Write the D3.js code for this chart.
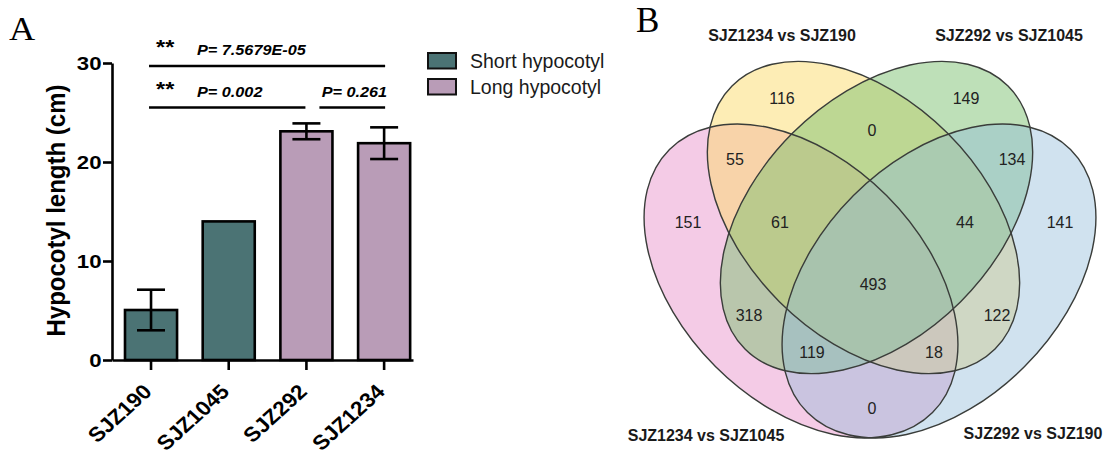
<!DOCTYPE html>
<html>
<head>
<meta charset="utf-8">
<script src="https://cdn.jsdelivr.net/npm/d3@7"></script>
<style>
  html, body { margin: 0; padding: 0; background: #ffffff; }
  svg { display: block; font-family: "Liberation Sans", Arial, sans-serif; }
</style>
</head>
<body>
<svg id="fig" width="1111" height="452"></svg>
<script>
// ---------- Panel A: hypocotyl length ----------
const lines = ["SJZ190", "SJZ1045", "SJZ292", "SJZ1234"];
const lineGroup = ["Short hypocotyl", "Short hypocotyl", "Long hypocotyl", "Long hypocotyl"];
const meanLength = [5.05, 14.0, 23.1, 21.9];
const errLength = [2.05, 0, 0.8, 1.6];
const yTicks = [0, 10, 20, 30];
const legendLabels = ["Short hypocotyl", "Long hypocotyl"];

// pairwise comparisons drawn above the bars
const compFrom = ["SJZ190", "SJZ190", "SJZ292"];
const compTo = ["SJZ1234", "SJZ292", "SJZ1234"];
const compLevel = [29.7, 25.5, 25.5];
const compStars = ["**", "**", ""];
const compLabels = ["P= 7.5679E-05", "P= 0.002", "P= 0.261"];

// ---------- Panel B: four-set Venn ----------
const vennSets = ["SJZ1234 vs SJZ1045", "SJZ1234 vs SJZ190", "SJZ292 vs SJZ1045", "SJZ292 vs SJZ190"];
const vennRegions = ["A", "B", "C", "D", "AB", "BC", "CD", "AD", "AC", "BD", "ABC", "BCD", "ACD", "ABD", "ABCD"];
const vennCounts = [151, 116, 149, 141, 55, 0, 134, 0, 318, 122, 61, 44, 119, 18, 493];

const svg = d3.select("#fig");

// ================= Panel A =================
const groupColor = d3.scaleOrdinal()
  .domain(legendLabels)
  .range(["#4b7374", "#b99cb7"]);

const x = d3.scaleBand()
  .domain(lines)
  .range([112, 413])
  .paddingInner(0.33)
  .paddingOuter(0.102)
  .align(0.82);

const y = d3.scaleLinear().domain([0, 30]).range([360, 63]);

const AX_W = 2.6;
const gA = svg.append("g");

// bars
gA.selectAll("rect.bar")
  .data(lines)
  .join("rect")
  .attr("class", "bar")
  .attr("x", d => x(d))
  .attr("width", x.bandwidth())
  .attr("y", (d, i) => y(meanLength[i]))
  .attr("height", (d, i) => y(0) - y(meanLength[i]))
  .attr("fill", (d, i) => groupColor(lineGroup[i]))
  .attr("stroke", "#000")
  .attr("stroke-width", AX_W);

// error bars
const capW = 28;
const eb = gA.selectAll("g.err")
  .data(lines.filter((d, i) => errLength[i] > 0))
  .join("g")
  .attr("class", "err")
  .attr("stroke", "#000")
  .attr("stroke-width", AX_W);
eb.each(function (d) {
  const i = lines.indexOf(d);
  const cx = x(d) + x.bandwidth() / 2;
  const hi = y(meanLength[i] + errLength[i]);
  const lo = y(meanLength[i] - errLength[i]);
  const g = d3.select(this);
  g.append("line").attr("x1", cx).attr("x2", cx).attr("y1", hi).attr("y2", lo);
  g.append("line").attr("x1", cx - capW / 2).attr("x2", cx + capW / 2).attr("y1", hi).attr("y2", hi);
  g.append("line").attr("x1", cx - capW / 2).attr("x2", cx + capW / 2).attr("y1", lo).attr("y2", lo);
});

// y axis
const gy = gA.append("g")
  .attr("transform", `translate(${x.range()[0]},0)`)
  .call(d3.axisLeft(y).tickValues(yTicks).tickSize(9).tickSizeOuter(0));
gy.select(".domain").attr("stroke", "#000").attr("stroke-width", AX_W);
gy.selectAll(".tick line").attr("stroke", "#000").attr("stroke-width", AX_W);
gy.selectAll(".tick text")
  .attr("x", null).attr("dy", null)
  .attr("transform", "translate(-10.5,6.6) scale(1.2,1)")
  .attr("text-anchor", "end")
  .style("font-family", "'Liberation Sans', Arial, sans-serif")
  .style("font-size", "18.5px")
  .style("font-weight", "bold")
  .attr("fill", "#000");

// x axis
const gx = gA.append("g")
  .attr("transform", `translate(0,${y(0)})`)
  .call(d3.axisBottom(x).tickSize(10).tickSizeOuter(0));
gx.select(".domain").attr("stroke", "#000").attr("stroke-width", AX_W);
gx.selectAll(".tick line").attr("stroke", "#000").attr("stroke-width", AX_W);
gx.selectAll(".tick text")
  .attr("y", null).attr("dy", null)
  .attr("transform", "translate(2,33) scale(1.1,1) rotate(-45)")
  .attr("text-anchor", "end")
  .style("font-family", "'Liberation Sans', Arial, sans-serif")
  .style("font-size", "20.5px")
  .style("font-weight", "bold")
  .attr("fill", "#000");

// y axis title
gA.append("text")
  .attr("transform", `translate(65,${(y(0) + y(30)) / 2 - 1}) scale(1.1,1) rotate(-90)`)
  .attr("text-anchor", "middle")
  .style("font-size", "24px")
  .style("font-weight", "bold")
  .text("Hypocotyl length (cm)");

// comparison brackets
const startPad = [-2, -2, 13];
const endPad = [1, -1, 1];
compFrom.forEach((from, i) => {
  const x1 = x(from) + x.bandwidth() / 2 + startPad[i];
  const x2 = x(compTo[i]) + x.bandwidth() / 2 + endPad[i];
  const ly = y(compLevel[i]);
  gA.append("line")
    .attr("x1", x1).attr("x2", x2).attr("y1", ly).attr("y2", ly)
    .attr("stroke", "#000").attr("stroke-width", AX_W);
  if (compStars[i]) {
    gA.append("text")
      .attr("transform", `translate(${x1 + 7},${ly - 11.5}) scale(1.12,1)`)
      .style("font-size", "21px").style("font-weight", "bold")
      .text(compStars[i]);
    gA.append("text")
      .attr("transform", `translate(${x1 + 48},${ly - 10.5}) scale(1.12,1)`)
      .style("font-size", "14.5px").style("font-weight", "bold").style("font-style", "italic")
      .text(compLabels[i]);
  } else {
    gA.append("text")
      .attr("transform", `translate(${x2 + 2},${ly - 10.5}) scale(1.12,1)`)
      .attr("text-anchor", "end")
      .style("font-size", "14.5px").style("font-weight", "bold").style("font-style", "italic")
      .text(compLabels[i]);
  }
});

// legend
const leg = gA.append("g").attr("transform", "translate(428,53)");
legendLabels.forEach((lab, i) => {
  const row = leg.append("g").attr("transform", `translate(0,${i * 26})`);
  row.append("rect")
    .attr("width", 28).attr("height", 15.5)
    .attr("fill", groupColor(lab))
    .attr("stroke", "#111").attr("stroke-width", 2);
  row.append("text")
    .attr("x", 42).attr("y", 15)
    .style("font-size", "19.5px")
    .attr("fill", "#1a1a1a")
    .text(lab);
});

// panel letter
svg.append("text")
  .attr("transform", "translate(9,40) scale(1.1,1)")
  .style("font-family", "'Liberation Serif', 'Times New Roman', serif")
  .style("font-size", "33px")
  .text("A");

// ================= Panel B =================
// Venn coordinates in units around the diagram centre
const vx = d3.scaleLinear().domain([-1, 1]).range([770, 970]);
const vy = d3.scaleLinear().domain([-1, 1]).range([150, 350]);
const unit = vx(1) - vx(0);

const ellipseLayout = {
  "SJZ1234 vs SJZ1045": { cx: -0.69, cy: 0.31, a: 1.86, b: 1.21, rot: 45, color: "#e998cd", alpha: 0.5 },
  "SJZ1234 vs SJZ190":  { cx: -0.065, cy: -0.325, a: 1.86, b: 1.19, rot: 45, color: "#fbdb6b", alpha: 0.5 },
  "SJZ292 vs SJZ1045":  { cx: 0.065, cy: -0.325, a: 1.86, b: 1.19, rot: -45, color: "#7dc171", alpha: 0.5 },
  "SJZ292 vs SJZ190":   { cx: 0.69, cy: 0.31, a: 1.86, b: 1.21, rot: -45, color: "#90b9d9", alpha: 0.42 }
};

const regionLabelPos = {
  A: [-1.82, -0.28], B: [-0.88, -1.52], C: [0.96, -1.52], D: [1.90, -0.28],
  AB: [-1.35, -0.91], BC: [0.02, -1.20], CD: [1.42, -0.91], AD: [0.02, 1.58],
  AC: [-1.21, 0.65], BD: [1.27, 0.65], ABC: [-0.90, -0.28], BCD: [0.95, -0.28],
  ACD: [-0.58, 1.02], ABD: [0.64, 1.02], ABCD: [0.03, 0.34]
};

const titleLayout = {
  "SJZ1234 vs SJZ1045": [-1.64, 1.85],
  "SJZ1234 vs SJZ190":  [-0.88, -2.15],
  "SJZ292 vs SJZ1045":  [1.39, -2.15],
  "SJZ292 vs SJZ190":   [1.63, 1.83]
};

const gB = svg.append("g");

function placeEllipse(sel) {
  sel.attr("cx", d => vx(ellipseLayout[d].cx))
    .attr("cy", d => vy(ellipseLayout[d].cy))
    .attr("rx", d => ellipseLayout[d].a * unit)
    .attr("ry", d => ellipseLayout[d].b * unit)
    .attr("transform", d => `rotate(${ellipseLayout[d].rot},${vx(ellipseLayout[d].cx)},${vy(ellipseLayout[d].cy)})`);
}

gB.selectAll("ellipse.fill")
  .data(vennSets)
  .join("ellipse")
  .attr("class", "fill")
  .call(placeEllipse)
  .attr("fill", d => ellipseLayout[d].color)
  .attr("fill-opacity", d => ellipseLayout[d].alpha)
  .attr("stroke", "none");

gB.selectAll("ellipse.edge")
  .data(vennSets)
  .join("ellipse")
  .attr("class", "edge")
  .call(placeEllipse)
  .attr("fill", "none")
  .attr("stroke", "#3a3d3a")
  .attr("stroke-width", 1.4);

gB.selectAll("text.count")
  .data(vennRegions)
  .join("text")
  .attr("class", "count")
  .attr("x", d => vx(regionLabelPos[d][0]))
  .attr("y", d => vy(regionLabelPos[d][1]) + 5.8)
  .attr("text-anchor", "middle")
  .style("font-size", "16px")
  .attr("fill", "#222")
  .text((d, i) => vennCounts[i]);

gB.selectAll("text.setname")
  .data(vennSets)
  .join("text")
  .attr("class", "setname")
  .attr("x", d => vx(titleLayout[d][0]))
  .attr("y", d => vy(titleLayout[d][1]) + 5.8)
  .attr("text-anchor", "middle")
  .style("font-size", "16px")
  .style("font-weight", "bold")
  .attr("fill", "#1a1a1a")
  .text(d => d);

svg.append("text")
  .attr("x", 636).attr("y", 32)
  .style("font-family", "'Liberation Serif', 'Times New Roman', serif")
  .style("font-size", "35px")
  .text("B");
</script>
</body>
</html>
